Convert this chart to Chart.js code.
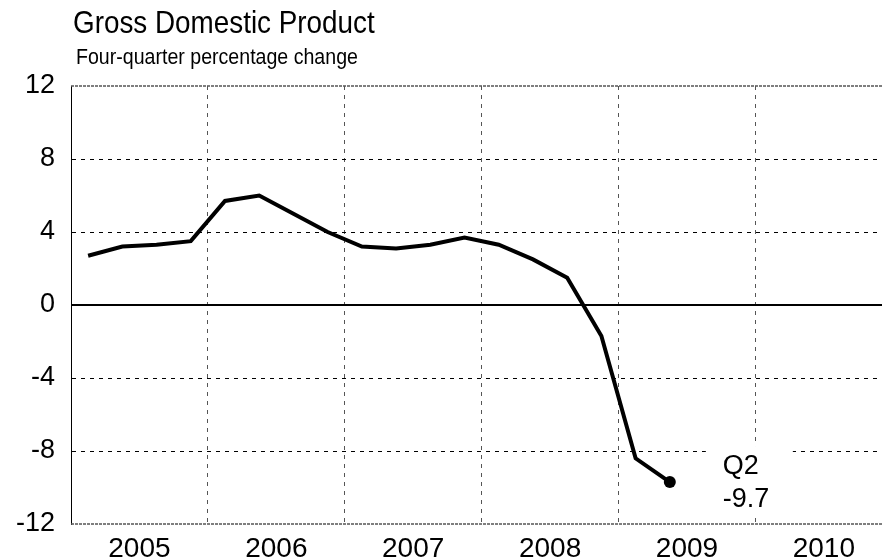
<!DOCTYPE html>
<html>
<head>
<meta charset="utf-8">
<title>Gross Domestic Product</title>
<script src="https://cdn.jsdelivr.net/npm/chart.js@4/dist/chart.umd.min.js"></script>
<style>
    html, body { margin: 0; padding: 0; background: #fff; }
    #chart-wrap { width: 888px; height: 560px; }
</style>
</head>
<body>
<div id="chart-wrap"><canvas id="gdp-graph"></canvas></div>
<script>
// 四半期（2005Q1〜2009Q2）
const quarters = [
    '2005Q1', '2005Q2', '2005Q3', '2005Q4',
    '2006Q1', '2006Q2', '2006Q3', '2006Q4',
    '2007Q1', '2007Q2', '2007Q3', '2007Q4',
    '2008Q1', '2008Q2', '2008Q3', '2008Q4',
    '2009Q1', '2009Q2'
];
// 前年同期比（%）
const gdpChange = [
    2.7, 3.2, 3.3, 3.5,
    5.7, 6.0, 5.0, 4.0,
    3.2, 3.1, 3.3, 3.7,
    3.3, 2.5, 1.5, -1.7,
    -8.4, -9.7
];
const years = ['2005', '2006', '2007', '2008', '2009', '2010'];
const yTicks = [-12, -8, -4, 0, 4, 8, 12];
const titleText = 'Gross Domestic Product';
const subtitleText = 'Four-quarter percentage change';
const lastQuarterLabel = 'Q2';

const FONT = '"Liberation Sans", Arial, sans-serif';
const X_MAX = 23.7;   // 2010年の途中まで表示

class GdpGraph {
    constructor() {
        this.chart = null;
    }

    /**
     * 四半期を横軸の位置（四半期の中央）に変換
     */
    toPoints(values) {
        return values.map((v, i) => ({ x: i + 0.5, y: v }));
    }

    /**
     * 横線用の2点データ
     */
    hLine(y) {
        return [{ x: 0, y: y }, { x: X_MAX, y: y }];
    }

    /**
     * 横方向を少し詰めて文字を描く
     */
    narrowText(c, text, x, y, size, sx) {
        c.save();
        c.font = size + 'px ' + FONT;
        c.translate(x, y);
        c.scale(sx, 1);
        c.fillText(text, 0, 0);
        c.restore();
    }

    drawGraph() {
        const ctx = document.getElementById('gdp-graph').getContext('2d');
        if (this.chart) {
            this.chart.destroy();
        }

        const self = this;
        const lastIndex = gdpChange.length - 1;

        // タイトル・サブタイトル
        const headerPlugin = {
            id: 'header',
            afterDraw(chart) {
                const c = chart.ctx;
                c.save();
                c.fillStyle = '#000';
                c.textBaseline = 'alphabetic';
                c.textAlign = 'left';
                self.narrowText(c, titleText, 73, 33, 32, 0.87);
                self.narrowText(c, subtitleText, 76, 64, 22, 0.89);
                c.restore();
            }
        };

        // 最新値のラベル（背景は白抜き）
        const lastLabelPlugin = {
            id: 'lastLabel',
            beforeDatasetsDraw(chart) {
                const c = chart.ctx;
                const px = chart.scales.x.getPixelForValue(lastIndex + 0.5);
                const py = chart.scales.y.getPixelForValue(gdpChange[lastIndex]);
                c.save();
                c.fillStyle = '#fff';
                c.fillRect(px + 36, py - 36, 87, 67);
                c.fillStyle = '#000';
                c.font = '27px ' + FONT;
                c.textAlign = 'left';
                c.textBaseline = 'alphabetic';
                c.fillText(lastQuarterLabel, px + 53, py - 8);
                c.fillText(gdpChange[lastIndex].toFixed(1), px + 53, py + 25);
                c.restore();
            }
        };

        this.chart = new Chart(ctx, {
            type: 'line',
            data: {
                datasets: [
                    {
                        label: 'GDP',
                        data: this.toPoints(gdpChange),
                        borderColor: '#000',
                        backgroundColor: '#000',
                        borderWidth: 4,
                        borderJoinStyle: 'miter',
                        tension: 0,
                        pointRadius: c => (c.dataIndex === lastIndex ? 6 : 0),
                        pointBorderWidth: 0,
                        order: 0
                    },
                    {
                        label: 'zero',
                        data: this.hLine(0),
                        borderColor: '#000',
                        borderWidth: 2,
                        pointRadius: 0,
                        order: 1
                    },
                    {
                        label: 'top',
                        data: this.hLine(12),
                        borderColor: '#555',
                        borderWidth: 1.5,
                        borderDash: [3, 1],
                        pointRadius: 0,
                        clip: false,
                        order: 2
                    },
                    {
                        label: 'bottom',
                        data: this.hLine(-12),
                        borderColor: '#555',
                        borderWidth: 1.5,
                        borderDash: [3, 1],
                        pointRadius: 0,
                        clip: false,
                        order: 2
                    }
                ]
            },
            options: {
                responsive: true,
                maintainAspectRatio: false,
                animation: false,
                layout: {
                    padding: { top: 86, right: 3, bottom: 0, left: 0 }
                },
                scales: {
                    x: {
                        type: 'linear',
                        min: 0,
                        max: X_MAX,
                        afterBuildTicks: axis => {
                            // 年の境界（グリッド）と年の中央（ラベル）
                            const t = [];
                            for (let v = 0; v <= 22; v += 2) t.push({ value: v });
                            axis.ticks = t;
                        },
                        afterFit: axis => { axis.height = 36; },
                        border: { display: false, dash: [4, 5] },
                        grid: {
                            drawTicks: false,
                            color: c => (c.tick && c.tick.value % 4 === 0 && c.tick.value > 0 ? '#555' : 'rgba(0,0,0,0)'),
                            lineWidth: 1
                        },
                        ticks: {
                            autoSkip: false,
                            maxRotation: 0,
                            padding: 8,
                            color: '#000',
                            font: { family: FONT, size: 28 },
                            callback: v => (v % 4 === 2 ? years[(v - 2) / 4] : '')
                        }
                    },
                    y: {
                        min: -12,
                        max: 12,
                        afterBuildTicks: axis => {
                            axis.ticks = yTicks.map(v => ({ value: v }));
                        },
                        afterFit: axis => { axis.width = 71; },
                        border: { display: true, color: '#000', width: 1, dash: [4, 5] },
                        grid: {
                            drawTicks: false,
                            color: c => (c.tick && Math.abs(c.tick.value) !== 12 && c.tick.value !== 0 ? '#000' : 'rgba(0,0,0,0)'),
                            lineWidth: 1
                        },
                        ticks: {
                            padding: 16,
                            color: '#000',
                            font: { family: FONT, size: 27 }
                        }
                    }
                },
                plugins: {
                    legend: { display: false },
                    title: { display: false },
                    tooltip: { enabled: false }
                }
            },
            plugins: [headerPlugin, lastLabelPlugin]
        });
    }
}

window.GdpGraph = GdpGraph;
new GdpGraph().drawGraph();
</script>
</body>
</html>
